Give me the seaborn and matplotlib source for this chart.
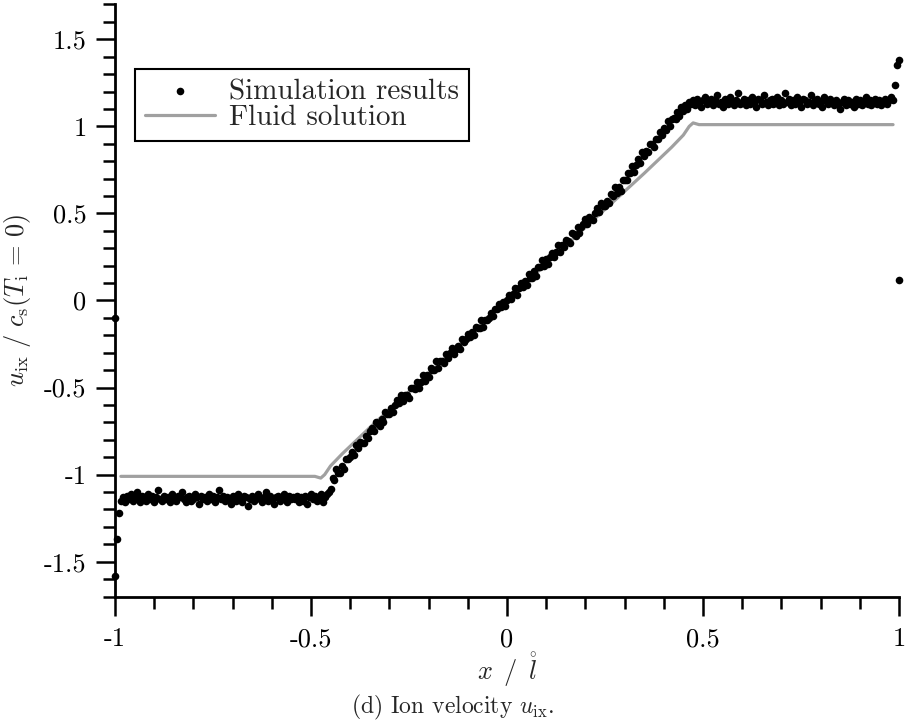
import numpy as np
import pandas as pd
import seaborn as sns
import matplotlib.pyplot as plt
from matplotlib.ticker import MultipleLocator

# simulation ion velocity (grid spacing 0.005 in x)
sim_left = [
    -1.58, -1.37, -1.22, -1.15,
    -1.13, -1.16, -1.12, -1.14, -1.11, -1.15, -1.13, -1.10, -1.14, -1.16,
    -1.12, -1.13, -1.15, -1.11, -1.14, -1.12, -1.16, -1.13, -1.09, -1.14,
    -1.15, -1.12, -1.14, -1.13, -1.16, -1.11, -1.14, -1.15, -1.12, -1.13,
    -1.10, -1.14, -1.16, -1.13, -1.12, -1.15, -1.14, -1.11, -1.13, -1.17,
    -1.12, -1.14, -1.13, -1.15, -1.11, -1.14, -1.12, -1.16, -1.13, -1.09,
    -1.14, -1.12, -1.15, -1.13, -1.14, -1.17, -1.12, -1.13, -1.15, -1.11,
    -1.14, -1.16, -1.12, -1.13, -1.18, -1.14, -1.12, -1.15, -1.13, -1.11,
    -1.14, -1.16, -1.13, -1.10, -1.15, -1.12, -1.14, -1.17, -1.13, -1.12,
    -1.15, -1.14, -1.11, -1.13, -1.16, -1.12, -1.14, -1.13,
    -1.14, -1.12, -1.16, -1.13, -1.15, -1.12, -1.17, -1.13, -1.11, -1.14,
    -1.12, -1.15, -1.13, -1.11, -1.16, -1.13, -1.11, -1.10, -1.08,
]
sim_ramp = [
    -1.02, -1.03, -0.97, -0.99, -0.99, -0.95, -0.97, -0.91, -0.91, -0.90,
    -0.87, -0.89, -0.83, -0.85, -0.81, -0.82, -0.82, -0.78, -0.79, -0.75,
    -0.73, -0.75, -0.70, -0.71, -0.72, -0.68, -0.70, -0.64, -0.65, -0.65,
    -0.62, -0.64, -0.60, -0.57, -0.59, -0.54, -0.58, -0.54, -0.54, -0.56,
    -0.50, -0.50, -0.51, -0.47, -0.50, -0.47, -0.43, -0.46, -0.43, -0.44,
    -0.39, -0.40, -0.40, -0.35, -0.39, -0.35, -0.35, -0.36, -0.31, -0.33,
    -0.30, -0.27, -0.31, -0.28, -0.26, -0.28, -0.22, -0.24, -0.22, -0.19,
    -0.21, -0.18, -0.20, -0.15, -0.16, -0.16, -0.11, -0.15, -0.11, -0.11,
    -0.10, -0.07, -0.09, -0.05, -0.05, -0.02, -0.04, -0.01, -0.03, 0.00,
    0.03, 0.01, 0.04, 0.07, 0.03, 0.07, 0.10, 0.08, 0.11, 0.09,
    0.15, 0.13, 0.13, 0.17, 0.14, 0.19, 0.19, 0.23, 0.20, 0.24,
    0.21, 0.25, 0.27, 0.25, 0.28, 0.32, 0.28, 0.32, 0.31, 0.35,
    0.34, 0.33, 0.39, 0.38, 0.37, 0.42, 0.39, 0.42, 0.44, 0.47,
    0.44, 0.48, 0.47, 0.46, 0.50, 0.53, 0.51, 0.56, 0.54, 0.54,
    0.57, 0.56, 0.61, 0.60, 0.65, 0.62, 0.65, 0.63, 0.69, 0.69,
    0.69, 0.73, 0.73, 0.77, 0.74, 0.78, 0.81, 0.79, 0.85, 0.83,
    0.86, 0.85, 0.90, 0.90, 0.88, 0.93, 0.93, 0.97, 0.95, 0.99,
    0.98, 1.03, 1.00, 1.04, 1.05, 1.04,
    1.08, 1.06, 1.11, 1.09, 1.12, 1.10, 1.14,
]
sim_right = [
    1.13, 1.15, 1.12, 1.16, 1.14, 1.11, 1.15, 1.17, 1.13, 1.14,
    1.16, 1.12, 1.15, 1.18, 1.13, 1.14, 1.11, 1.16, 1.15, 1.13,
    1.17, 1.14, 1.12, 1.15, 1.19, 1.13, 1.14, 1.16, 1.12, 1.15,
    1.13, 1.17, 1.14, 1.11, 1.16, 1.15, 1.13, 1.18, 1.14, 1.12,
    1.15, 1.16, 1.13, 1.14, 1.17, 1.12, 1.15, 1.13, 1.19, 1.14,
    1.16, 1.12, 1.15, 1.13, 1.17, 1.14, 1.11, 1.16, 1.15, 1.13,
    1.14, 1.18, 1.12, 1.15, 1.16, 1.13, 1.14, 1.11, 1.17, 1.15,
    1.13, 1.16, 1.14, 1.12, 1.15, 1.13, 1.10, 1.14, 1.16, 1.12,
    1.15, 1.13, 1.14, 1.11, 1.16, 1.13, 1.15, 1.12, 1.14, 1.17,
    1.13, 1.15, 1.12, 1.14, 1.16, 1.13, 1.15, 1.12, 1.14, 1.16,
    1.13, 1.15, 1.17,
    1.15, 1.24, 1.35, 1.38,
]
sim_u = sim_left + sim_ramp + sim_right
sim_x = np.linspace(-1, 1, len(sim_u))

# stray points at the boundaries
edge_x = [-1.0, 1.0]
edge_u = [-0.10, 0.12]

# fluid solution
fluid_x = [-0.985, -0.49, -0.475, -0.465, -0.45, -0.42, -0.35, -0.2, 0.0,
           0.2, 0.35, 0.42, 0.45, 0.465, 0.475, 0.49, 0.985]
fluid_u = [-1.01, -1.01, -1.02, -1.0, -0.95, -0.88, -0.73, -0.42, 0.0,
           0.42, 0.73, 0.88, 0.95, 1.0, 1.02, 1.01, 1.01]

x_ticks = [-1, -0.5, 0, 0.5, 1]
x_tick_labels = ['-1', '-0.5', '0', '0.5', '1']
y_ticks = [-1.5, -1, -0.5, 0, 0.5, 1, 1.5]
y_tick_labels = ['-1.5', '-1', '-0.5', '0', '0.5', '1', '1.5']

sns.set_theme(style='ticks')
plt.rcParams['font.family'] = 'serif'
plt.rcParams['font.serif'] = ['cmr10']
plt.rcParams['mathtext.fontset'] = 'cm'
plt.rcParams['axes.unicode_minus'] = False
plt.rcParams['axes.formatter.use_mathtext'] = True

fs = 19

fig = plt.figure(figsize=(9.06, 7.24), dpi=100)
ax = fig.add_axes([0.1269, 0.1761, 0.8653, 0.8177])

sim = pd.DataFrame({'x': sim_x, 'u': sim_u})
sns.scatterplot(data=sim, x='x', y='u', color='black', s=30, linewidth=0,
                label='Simulation results', clip_on=False, zorder=3, ax=ax)
sns.scatterplot(x=edge_x, y=edge_u, color='black', s=30, linewidth=0,
                legend=False, clip_on=False, zorder=3, ax=ax)
sns.lineplot(x=fluid_x, y=fluid_u, color='#a0a0a0', linewidth=2.3,
             estimator=None, label='Fluid solution', zorder=2, ax=ax)

ax.set_xlim(-1, 1)
ax.set_ylim(-1.7, 1.7)
ax.set_xticks(x_ticks)
ax.set_xticklabels(x_tick_labels)
ax.set_yticks(y_ticks)
ax.set_yticklabels(y_tick_labels)
ax.xaxis.set_minor_locator(MultipleLocator(0.1))
ax.yaxis.set_minor_locator(MultipleLocator(0.1))
ax.tick_params(which='major', direction='out', length=13.5, width=1.8,
               labelsize=fs, pad=7, color='black', labelcolor='black')
ax.tick_params(axis='x', which='major', pad=9)
ax.tick_params(which='minor', direction='out', length=8.5, width=1.8,
               color='black')

sns.despine(ax=ax)
for side in ['left', 'bottom']:
    ax.spines[side].set_linewidth(2)
    ax.spines[side].set_color('black')

ax.set_xlabel(r'$x\ \,/\ \,\mathring{l}$', fontsize=fs, labelpad=-1)
ax.set_ylabel(r'$u_{\rm ix}\ /\ c_{\rm s}(T_{\rm i}\,=\,0)$', fontsize=fs)
ax.yaxis.set_label_coords(-0.105, 0.5)

leg = ax.legend(loc='upper left', bbox_to_anchor=(0.0255, 0.891),
                borderaxespad=0, fontsize=21, frameon=True, fancybox=False,
                edgecolor='black', framealpha=1, handlelength=2.4,
                handletextpad=0.5, labelspacing=0.0, borderpad=0.33,
                markerscale=1.0)
leg.get_frame().set_linewidth(1.5)

fig.text(0.5, 1 - 707 / 724, r'(d) Ion velocity $u_{\rm ix}$.',
         ha='center', va='center', fontsize=17)

fig.savefig('out.png', dpi=100)
